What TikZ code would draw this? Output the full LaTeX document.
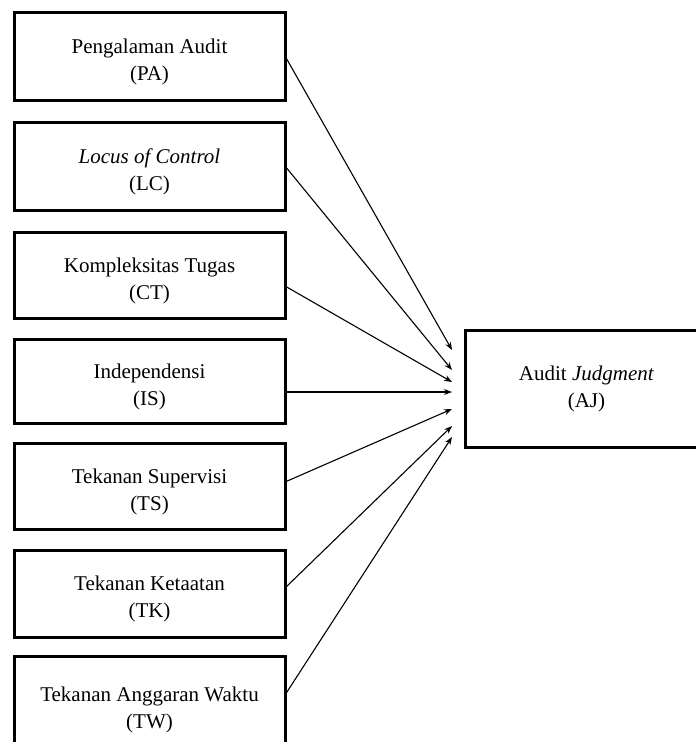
\documentclass[tikz,border=0pt]{standalone}
\usepackage{fontspec}
\setmainfont{Liberation Serif}
\usetikzlibrary{arrows.meta}
\newcommand\twolines[2]{\rule{0pt}{26pt}#1\\#2}
\begin{document}
\begin{tikzpicture}[x=1pt,y=-1pt,
  varbox/.style={draw=black, line width=3pt, minimum width=271pt, inner sep=0pt, outer sep=0pt,
     align=center, font=\fontsize{21}{27}\selectfont, fill=white},
  link/.style={line width=1.1pt, -{Stealth[length=8pt,width=6pt]}}]
\useasboundingbox (0,0) rectangle (696,742);
\fill[white] (0,0) rectangle (696,742);
\begin{scope}
\clip (0,0) rectangle (696,742);
\node[varbox, minimum height=88pt] (pa) at (149.5,56) {\twolines{Pengalaman Audit}{(PA)}};
\node[varbox, minimum height=88pt] (lc) at (149.5,166) {\twolines{\textit{Locus of Control}}{(LC)}};
\node[varbox, minimum height=86pt] (ct) at (149.5,275) {\twolines{Kompleksitas Tugas}{(CT)}};
\node[varbox, minimum height=84pt] (is) at (149.5,381.5) {\twolines{Independensi}{(IS)}};
\node[varbox, minimum height=86pt] (ts) at (149.5,486) {\twolines{Tekanan Supervisi}{(TS)}};
\node[varbox, minimum height=87pt] (tk) at (149.5,593.5) {\twolines{Tekanan Ketaatan}{(TK)}};
\node[varbox, minimum height=96pt] (tw) at (149.5,704) {\twolines{Tekanan Anggaran Waktu}{(TW)}};
\node[varbox, minimum width=243pt, minimum height=117pt] (aj) at (586.5,388.5) {Audit \textit{Judgment}\\(AJ)};
\draw[link] (pa.east) -- ([xshift=-13pt,yshift=38.5pt]aj.west);
\draw[link] (lc.east) -- ([xshift=-13pt,yshift=18.5pt]aj.west);
\draw[link] ([yshift=-11pt]ct.east) -- ([xshift=-13pt,yshift=6.5pt]aj.west);
\draw[link] ([yshift=-10.5pt]is.east) -- ([xshift=-13pt,yshift=-3.5pt]aj.west);
\draw[link] ([yshift=4pt]ts.east) -- ([xshift=-13pt,yshift=-20.5pt]aj.west);
\draw[link] ([yshift=5.5pt]tk.east) -- ([xshift=-13pt,yshift=-37.5pt]aj.west);
\draw[link] ([yshift=9pt]tw.east) -- ([xshift=-13pt,yshift=-48.5pt]aj.west);
\end{scope}
\end{tikzpicture}
\end{document}
